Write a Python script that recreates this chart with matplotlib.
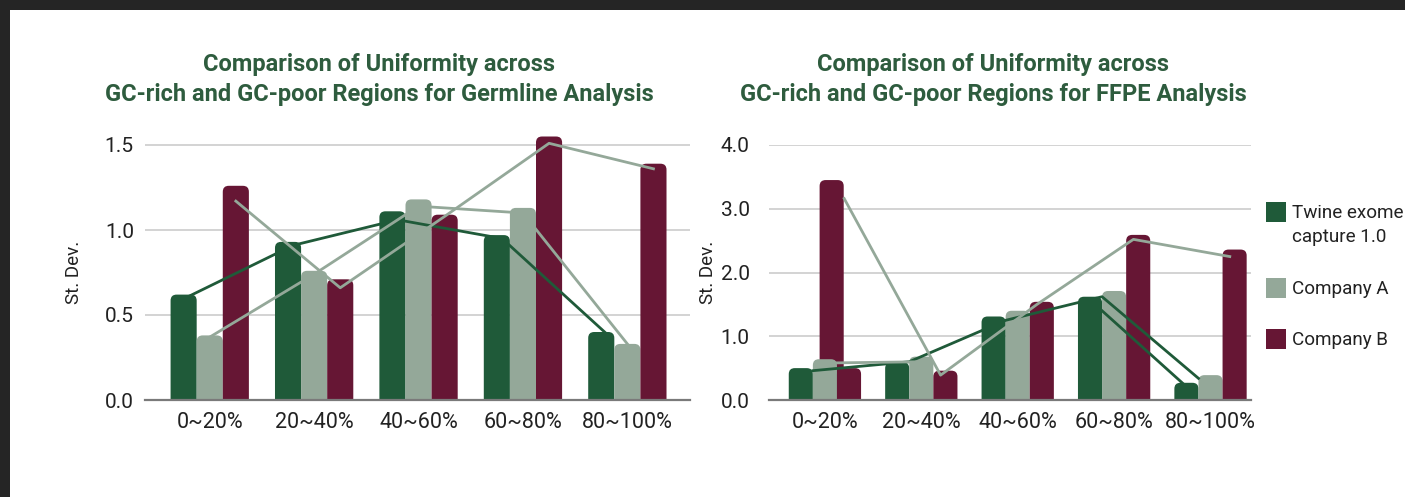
import matplotlib
matplotlib.use("Agg")
import matplotlib.pyplot as plt
from matplotlib.patches import FancyBboxPatch, Rectangle
import numpy as np

plt.rcParams['font.family'] = ['Roboto', 'DejaVu Sans']

# Data
categories = ["0~20%", "20~40%", "40~60%", "60~80%", "80~100%"]
series_names = ["Twine exome\ncapture 1.0", "Company A", "Company B"]

# Germline analysis (bars)
twine_germ = [0.62, 0.93, 1.11, 0.97, 0.40]
comp_a_germ = [0.38, 0.76, 1.18, 1.13, 0.33]
comp_b_germ = [1.26, 0.71, 1.09, 1.55, 1.39]
# Germline analysis (overlaid lines)
twine_germ_line = [0.61, 0.91, 1.06, 0.95, 0.39]
comp_a_germ_line = [0.37, 0.74, 1.14, 1.10, 0.33]
comp_b_germ_line = [1.17, 0.66, 1.08, 1.51, 1.36]

# FFPE analysis (bars)
twine_ffpe = [0.50, 0.59, 1.31, 1.62, 0.27]
comp_a_ffpe = [0.64, 0.68, 1.40, 1.71, 0.39]
comp_b_ffpe = [0.50, 0.46, 1.54, 2.59, 2.36]
comp_b_ffpe_peak = [3.45]          # tall bar behind the first group
# FFPE analysis (overlaid lines)
twine_ffpe_line = [0.46, 0.60, 1.25, 1.62, 0.34]
twine_ffpe_tail = [1.57, 0.21]     # second segment, last two groups
comp_a_ffpe_line = [0.58, 0.60]    # first two groups only
comp_b_ffpe_line = [3.16, 0.39, 1.50, 2.52, 2.25]

GREEN = "#1f5a39"
GREY = "#94a899"
MAROON = "#661634"
TITLE_C = "#2e5c3e"
GRID_C = "#d0d0d0"

W, H = 1405, 497
fig = plt.figure(figsize=(W / 100, H / 100), dpi=100)
fig.patch.set_facecolor("white")


def fx(px):
    return px / W


def fy(py):
    return 1 - py / H


# dark frame of the screenshot
fig.add_artist(Rectangle((0, fy(10)), 1, 10 / H, transform=fig.transFigure,
                         facecolor="#252525", edgecolor="none"))
fig.add_artist(Rectangle((0, 0), 10 / W, 1, transform=fig.transFigure,
                         facecolor="#252525", edgecolor="none"))


def rounded_bars(ax, x, heights, color, width, radius_px=6, z=2):
    bars = ax.bar(x, heights, width=width, color=color, zorder=z)
    pos = ax.get_position()
    x0, x1 = ax.get_xlim()
    y0, y1 = ax.get_ylim()
    ppx = pos.width * W / (x1 - x0)
    ppy = pos.height * H / (y1 - y0)
    r_x = radius_px / ppx
    r_y = radius_px / ppy
    for rect in bars:
        bx, bw, bh = rect.get_x(), rect.get_width(), rect.get_height()
        rect.remove()
        p = FancyBboxPatch((bx, -r_y), bw, bh + r_y,
                           boxstyle=f"round,pad=0,rounding_size={r_x}",
                           mutation_aspect=ppx / ppy,
                           facecolor=color, edgecolor="none", zorder=z)
        ax.add_patch(p)


def setup_axes(rect, ylim, yticks, yfmt, xlim, label_x, label_y, ypad):
    ax = fig.add_axes(rect)
    ax.set_xlim(*xlim)
    ax.set_ylim(*ylim)
    ax.set_yticks(yticks)
    ax.set_yticklabels([yfmt.format(v) for v in yticks])
    ax.set_xticks(range(len(categories)))
    ax.set_xticklabels(categories)
    ax.tick_params(axis="x", length=0, pad=9, labelsize=15.5, colors="#222222")
    ax.tick_params(axis="y", length=0, pad=ypad, labelsize=15, colors="#222222")
    ax.yaxis.grid(True, color=GRID_C, linewidth=1.3, zorder=0)
    ax.set_axisbelow(True)
    for s in ["top", "right", "left"]:
        ax.spines[s].set_visible(False)
    ax.spines["bottom"].set_color("#7a7a7a")
    ax.spines["bottom"].set_linewidth(1.6)
    ax.spines["bottom"].set_zorder(4)
    ax.set_ylabel("St. Dev.", fontsize=13.5, color="#222222")
    ax.yaxis.set_label_coords(label_x, label_y)
    return ax


bw = 0.25
offsets = [-bw, 0, bw]
xs = np.arange(len(categories))

# ---- Left: Germline ----
ax1 = setup_axes([fx(145), fy(400), fx(690) - fx(145), 272 / H],
                 (0, 1.6), [0, 0.5, 1.0, 1.5], "{:.1f}",
                 (-0.62, 4.6), -0.114, 0.47, 8)
for vals, col, off in zip([twine_germ, comp_a_germ, comp_b_germ],
                          [GREEN, GREY, MAROON], offsets):
    rounded_bars(ax1, xs + off, vals, col, bw)
ax1.plot(xs - 0.2, twine_germ_line, color=GREEN, lw=2, zorder=3)
ax1.plot(xs, comp_a_germ_line, color=GREY, lw=2, zorder=3)
ax1.plot(xs + bw, comp_b_germ_line, color=GREY, lw=2, zorder=3)

# ---- Right: FFPE ----
ax2 = setup_axes([fx(769), fy(400), fx(1251) - fx(769), 255 / H],
                 (0, 4.0), [0, 1.0, 2.0, 3.0, 4.0], "{:.1f}",
                 (-0.58, 4.42), -0.108, 0.50, 14)
rounded_bars(ax2, xs[:1] + 0.07, comp_b_ffpe_peak, MAROON, bw, z=1.9)
for vals, col, off in zip([twine_ffpe, comp_a_ffpe, comp_b_ffpe],
                          [GREEN, GREY, MAROON], offsets):
    rounded_bars(ax2, xs + off, vals, col, bw)
ax2.plot(xs - 0.125, twine_ffpe_line, color=GREEN, lw=2, zorder=3)
ax2.plot(xs[3:] - bw, twine_ffpe_tail, color=GREEN, lw=2, zorder=3)
ax2.plot(xs[:2], comp_a_ffpe_line, color=GREY, lw=2, zorder=3)
ax2.plot(xs + 0.2, comp_b_ffpe_line, color=GREY, lw=2, zorder=3)

# ---- Titles ----
title_kw = dict(ha="center", va="center", fontsize=17, fontweight="bold", color=TITLE_C)
fig.text(fx(379), fy(64), "Comparison of Uniformity across", **title_kw)
fig.text(fx(379), fy(95), "GC-rich and GC-poor Regions for Germline Analysis", **title_kw)
fig.text(fx(993), fy(64), "Comparison of Uniformity across", **title_kw)
fig.text(fx(993), fy(95), "GC-rich and GC-poor Regions for FFPE Analysis", **title_kw)

# ---- Legend ----
legend_y = [212, 288, 339]
for name, col, ly in zip(series_names, [GREEN, GREY, MAROON], legend_y):
    fig.add_artist(Rectangle((fx(1266), fy(ly + 10)), 20 / W, 20 / H,
                             transform=fig.transFigure, facecolor=col, edgecolor="none"))
    fig.text(fx(1292), fy(ly - 8), name, ha="left", va="top", fontsize=13.6,
             color="#222222", linespacing=1.45)

fig.savefig("out.png", dpi=100)
